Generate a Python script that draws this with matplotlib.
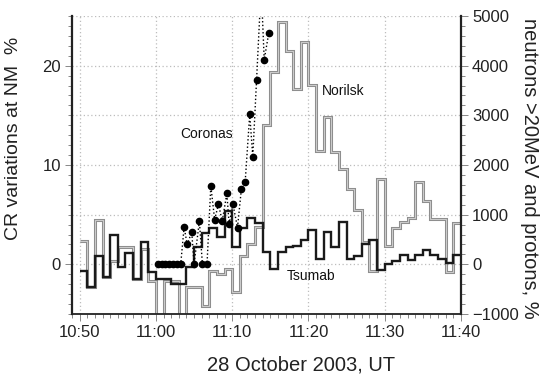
import numpy as np
import matplotlib
matplotlib.use('Agg')
import matplotlib.pyplot as plt
from matplotlib.ticker import MultipleLocator

plt.rcParams['font.family'] = ['Liberation Sans', 'DejaVu Sans']

# time axis: minutes after 11:00 UT, 1-min bins from 10:50 to 11:40
bin_edges = np.arange(-10, 41)

# neutron monitor count rate variations, %
norilsk = [2.3, -2.3, 4.5, -1.3, 0.3, 1.7, 1.7, -1.5, 1.5, -1.7,
           -6.0, -1.7, -1.7, -6.0, -2.3, -2.3, -4.2, -0.7, -1.0, -0.5,
           -2.8, 0.8, 2.0, 3.8, 14.0, 19.4, 24.4, 21.5, 17.7, 22.4,
           18.1, 11.4, 14.8, 11.3, 9.6, 7.6, 5.5, 2.2, -0.7, 8.6,
           1.8, 3.7, 4.3, 4.7, 8.3, 6.4, 4.6, 4.6, -0.8, 4.2]
tsumeb = [-0.7, -2.3, 0.8, -1.3, 3.0, -0.3, 1.1, -1.5, 2.2, -0.8,
          -1.5, -1.5, -2.0, -2.0, -0.3, 1.7, 3.2, 3.7, 2.8, 5.4,
          1.7, 3.7, 4.7, 4.2, 1.2, -0.5, 1.2, 1.7, 1.8, 2.5,
          3.5, 0.5, 3.3, 1.7, 4.3, 0.5, 0.8, 2.0, 2.5, -0.6,
          0.0, 0.3, 0.9, 0.4, 0.9, 1.4, 0.9, 0.5, 0.1, 0.9]

# CORONAS-F neutrons >20 MeV and protons, %
coronas_t = [0.25, 0.75, 1.25, 1.75, 2.25, 2.75, 3.25, 3.7, 4.1, 4.7,
             5.0, 5.7, 6.1, 6.7, 7.2, 7.7, 8.2, 8.7, 9.3, 9.6,
             10.1, 10.7, 11.2, 11.7, 12.3, 12.7, 13.2, 13.8, 14.2, 14.8]
coronas_v = [0, 0, 0, 0, 0, 0, 0, 750, 400, 650,
             0, 870, 0, 0, 1580, 900, 1210, 870, 1430, 810,
             1210, 740, 1510, 1650, 3020, 2170, 3720, 5600, 4120, 4660]

tick_pos = [-10, 0, 10, 20, 30, 40]
tick_labels = ['10:50', '11:00', '11:10', '11:20', '11:30', '11:40']

fig = plt.figure(figsize=(5.43, 3.76), dpi=100)
ax = fig.add_axes([72 / 543, 1 - 314 / 376, (461 - 72) / 543, (314 - 16) / 376])
ax2 = ax.twinx()

# dotted grid
grid_kw = dict(color='#bdbdbd', ls=(0, (1, 2)), lw=0.9, zorder=0)
for x in tick_pos[:-1]:
    ax.axvline(x, **grid_kw)
for y in [0, 5, 10, 15, 20, 25]:
    ax.axhline(y, **grid_kw)

ax.stairs(norilsk, bin_edges, baseline=None, color='#8e8e8e', lw=2.2, zorder=2)
ax.stairs(norilsk, bin_edges, baseline=None, color='#e6e6e6', lw=0.5, zorder=2)
ax.stairs(tsumeb, bin_edges, baseline=None, color='#1a1a1a', lw=1.7, zorder=3)

ax2.plot(coronas_t, coronas_v, color='black', ls=':', lw=1.0,
         marker='o', ms=4.5, mfc='black', mec='black', zorder=4)

ax.set_xlim(-11, 40)
ax.set_ylim(-5, 25)
ax2.set_ylim(-1000, 5000)

ax.set_xticks(tick_pos)
ax.set_xticklabels(tick_labels)
ax.xaxis.set_minor_locator(MultipleLocator(1))
ax.set_yticks([0, 10, 20])
ax.yaxis.set_minor_locator(MultipleLocator(1))
ax2.set_yticks(np.arange(-1000, 5001, 1000))
ax2.yaxis.set_minor_locator(MultipleLocator(200))

for a in (ax, ax2):
    a.tick_params(which='both', direction='out', color='#888888', width=0.7,
                  labelsize=12, labelcolor='#222222')
    a.tick_params(which='major', length=5, pad=3)
    a.tick_params(which='minor', length=3)
    a.spines['top'].set_visible(False)

ax.spines['right'].set_visible(False)
ax2.spines['left'].set_visible(False)
ax2.spines['bottom'].set_visible(False)
ax.spines['left'].set_linewidth(1.6)
ax.spines['bottom'].set_linewidth(1.3)
ax2.spines['right'].set_linewidth(1.6)
for s in ('left', 'bottom'):
    ax.spines[s].set_color('#222222')
ax2.spines['right'].set_color('#222222')

ax.set_ylabel('CR variations at NM  %', fontsize=14, color='#222222')
ax.yaxis.set_label_coords(-0.129, 0.59)
ax2.set_ylabel('neutrons >20MeV and protons, %', fontsize=14.5, color='#222222',
               rotation=270, va='center', ha='center')
ax2.yaxis.set_label_coords(1.177, 0.49)
ax.set_xlabel('28 October 2003, UT', fontsize=14.5, color='#222222', va='center')
ax.xaxis.set_label_coords(0.589, -0.171)

txt_kw = dict(fontsize=10, color='#111111', ha='center', va='center', zorder=5)
ax.text(6.7, 13.1, 'Coronas', **txt_kw)
ax.text(24.5, 17.4, 'Norilsk', **txt_kw)
ax.text(20.3, -1.2, 'Tsumab', **txt_kw)

fig.savefig('out.png', dpi=100)
